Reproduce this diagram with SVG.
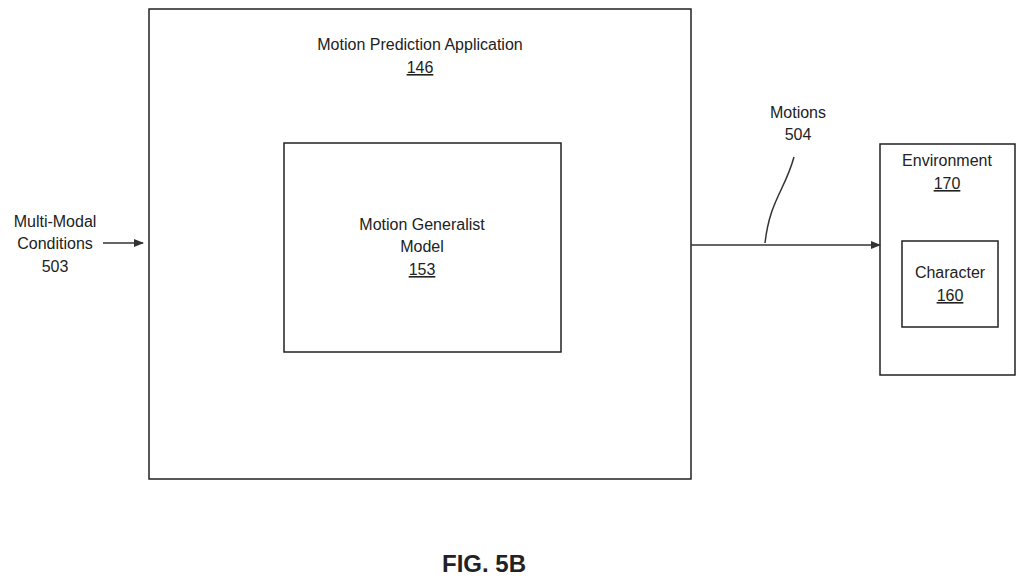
<svg xmlns="http://www.w3.org/2000/svg" width="1024" height="581" viewBox="0 0 1024 581">
<style>
.b{fill:#fff;stroke:#222;stroke-width:1.5}
.t{font-family:"Liberation Sans",Arial,sans-serif;font-size:16px;fill:#222;text-anchor:middle}
.u{text-decoration:underline}
.c{stroke:#333;stroke-width:1.5;fill:none}
</style>
<defs><marker id="a" markerWidth="10" markerHeight="8" refX="9" refY="4" orient="auto" markerUnits="userSpaceOnUse"><path d="M0,0L10,4L0,8z" fill="#333"/></marker></defs>
<rect width="1024" height="581" fill="#fff"/>
<g id="app"><rect class="b" x="149" y="9" width="542" height="470"/>
<text class="t" x="420" y="50">Motion Prediction Application</text><text class="t u" x="420" y="73">146</text></g>
<g id="model"><rect class="b" x="284" y="143" width="277" height="209"/>
<text class="t" x="422" y="230">Motion Generalist</text><text class="t" x="422" y="252">Model</text><text class="t u" x="422" y="275">153</text></g>
<g id="env"><rect class="b" x="880" y="144" width="135" height="231"/>
<text class="t" x="947" y="166">Environment</text><text class="t u" x="947" y="189">170</text></g>
<g id="char"><rect class="b" x="902" y="241" width="96" height="86"/>
<text class="t" x="950" y="278">Character</text><text class="t u" x="950" y="301">160</text></g>
<g id="labels"><text class="t" x="55" y="227">Multi-Modal</text><text class="t" x="55" y="249">Conditions</text><text class="t" x="55" y="272">503</text>
<text class="t" x="798" y="118">Motions</text><text class="t" x="798" y="140">504</text>
<text class="t" x="484" y="572" style="font-size:24px;font-weight:bold">FIG. 5B</text></g>
<g id="connectors">
<line class="c" x1="103" y1="243" x2="143" y2="243" marker-end="url(#a)"/>
<line class="c" x1="691" y1="245" x2="880" y2="245" marker-end="url(#a)"/>
<path class="c" d="M794,157C785,190 770,200 765,243"/>
</g>
</svg>
